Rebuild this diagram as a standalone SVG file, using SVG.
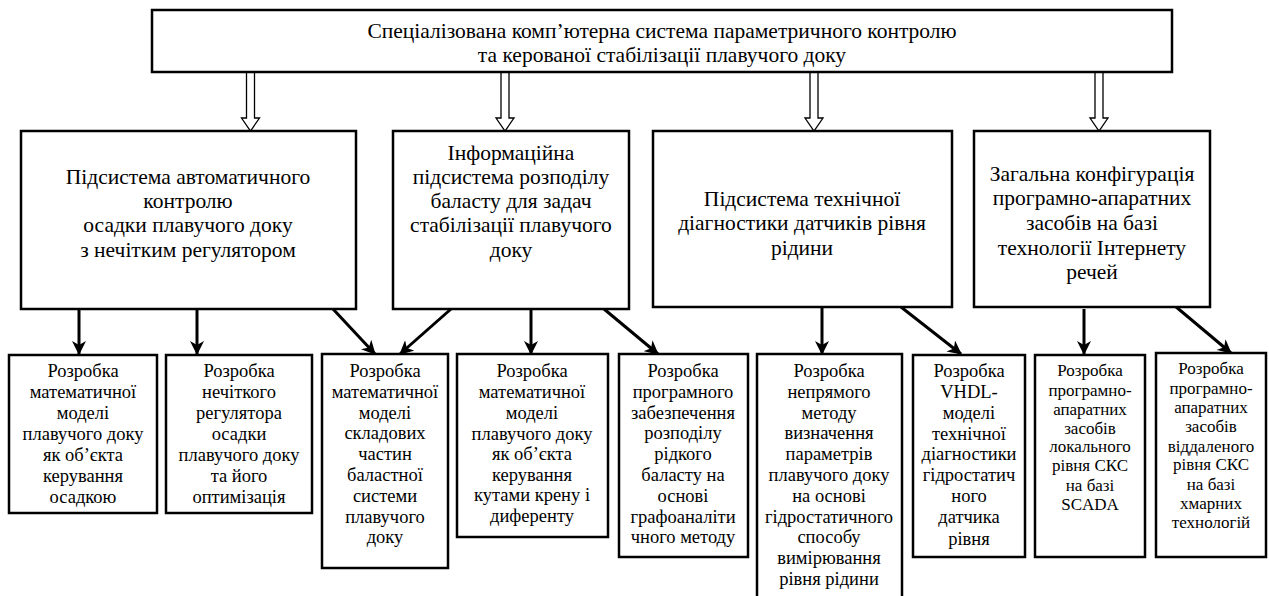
<svg xmlns="http://www.w3.org/2000/svg" width="1269" height="596" viewBox="0 0 1269 596">
<style>
.box{fill:#fff;stroke:#000;stroke-width:2.5}
.t{font-family:'Liberation Serif','Times New Roman','DejaVu Serif',serif;fill:#000;text-anchor:middle}
.t1{font-size:21.5px}
.t2{font-size:21.5px}
.t3{font-size:18.5px}
.t4{font-size:17px}
.hollow{fill:#fff;stroke:#000;stroke-width:1.3}
.conn{stroke:#000;stroke-width:3;fill:none}
</style>
<defs>
<marker id="ah" viewBox="0 0 14 14" refX="13" refY="7" markerWidth="14" markerHeight="14" markerUnits="userSpaceOnUse" orient="auto">
<path d="M0,0 L14,7 L0,14 L4,7 z" fill="#000"/>
</marker>
</defs>
<g id="connectors">
<path class="hollow" d="M246.5,72 V118 H241.5 L250.5,131 L259.5,118 H254.5 V72"/>
<path class="hollow" d="M501,72 V118 H496 L505,131 L514,118 H509 V72"/>
<path class="hollow" d="M810,72 V118 H805 L814,131 L823,118 H818 V72"/>
<path class="hollow" d="M1095,72 V118 H1090 L1099,131 L1108,118 H1103 V72"/>
<line class="conn" x1="79" y1="309" x2="79" y2="354" marker-end="url(#ah)"/>
<line class="conn" x1="197" y1="309" x2="197" y2="354" marker-end="url(#ah)"/>
<line class="conn" x1="333" y1="309" x2="375" y2="354" marker-end="url(#ah)"/>
<line class="conn" x1="451" y1="309" x2="400" y2="354" marker-end="url(#ah)"/>
<line class="conn" x1="531" y1="309" x2="531" y2="354" marker-end="url(#ah)"/>
<line class="conn" x1="604" y1="309" x2="658" y2="354" marker-end="url(#ah)"/>
<line class="conn" x1="822" y1="307" x2="822" y2="354" marker-end="url(#ah)"/>
<line class="conn" x1="901" y1="307" x2="961" y2="354" marker-end="url(#ah)"/>
<line class="conn" x1="1084" y1="309" x2="1084" y2="354" marker-end="url(#ah)"/>
<line class="conn" x1="1175" y1="306" x2="1231" y2="353" marker-end="url(#ah)"/>
</g>
<g id="root">
<rect class="box" x="152" y="10" width="1020" height="62"/>
<text class="t t1"><tspan x="662" y="38">Спеціалізована комп’ютерна система параметричного контролю</tspan><tspan x="662" y="62">та керованої стабілізації плавучого доку</tspan></text>
</g>
<g id="sub1">
<rect class="box" x="21" y="131" width="335" height="178"/>
<text class="t t2"><tspan x="188" y="184">Підсистема автоматичного</tspan><tspan x="188" y="208">контролю</tspan><tspan x="188" y="232">осадки плавучого доку</tspan><tspan x="188" y="257">з нечітким регулятором</tspan></text>
</g>
<g id="sub2">
<rect class="box" x="393" y="131" width="236" height="178"/>
<text class="t t2"><tspan x="511" y="160">Інформаційна</tspan><tspan x="511" y="184">підсистема розподілу</tspan><tspan x="511" y="208">баласту для задач</tspan><tspan x="511" y="232">стабілізації плавучого</tspan><tspan x="511" y="257">доку</tspan></text>
</g>
<g id="sub3">
<rect class="box" x="653" y="131" width="299" height="176"/>
<text class="t t2"><tspan x="802" y="206">Підсистема технічної</tspan><tspan x="802" y="230">діагностики датчиків рівня</tspan><tspan x="802" y="255">рідини</tspan></text>
</g>
<g id="sub4">
<rect class="box" x="974" y="131" width="236" height="176"/>
<text class="t t2"><tspan x="1092" y="181">Загальна конфігурація</tspan><tspan x="1092" y="205">програмно-апаратних</tspan><tspan x="1092" y="230">засобів на базі</tspan><tspan x="1092" y="255">технології Інтернету</tspan><tspan x="1092" y="279">речей</tspan></text>
</g>
<g id="taskA">
<rect class="box" x="9" y="355" width="148" height="158"/>
<text class="t t3"><tspan x="83" y="377">Розробка</tspan><tspan x="83" y="398">математичної</tspan><tspan x="83" y="419">моделі</tspan><tspan x="83" y="440">плавучого доку</tspan><tspan x="83" y="461">як об’єкта</tspan><tspan x="83" y="482">керування</tspan><tspan x="83" y="503">осадкою</tspan></text>
</g>
<g id="taskB">
<rect class="box" x="166" y="355" width="146" height="158"/>
<text class="t t3"><tspan x="239" y="377">Розробка</tspan><tspan x="239" y="398">нечіткого</tspan><tspan x="239" y="419">регулятора</tspan><tspan x="239" y="440">осадки</tspan><tspan x="239" y="461">плавучого доку</tspan><tspan x="239" y="482">та його</tspan><tspan x="239" y="503">оптимізація</tspan></text>
</g>
<g id="taskC">
<rect class="box" x="322" y="354" width="126" height="214"/>
<text class="t t3"><tspan x="385" y="377">Розробка</tspan><tspan x="385" y="398">математичної</tspan><tspan x="385" y="419">моделі</tspan><tspan x="385" y="439">складових</tspan><tspan x="385" y="460">частин</tspan><tspan x="385" y="481">баластної</tspan><tspan x="385" y="502">системи</tspan><tspan x="385" y="523">плавучого</tspan><tspan x="385" y="543">доку</tspan></text>
</g>
<g id="taskD">
<rect class="box" x="457" y="354" width="151" height="183"/>
<text class="t t3"><tspan x="532" y="377">Розробка</tspan><tspan x="532" y="398">математичної</tspan><tspan x="532" y="419">моделі</tspan><tspan x="532" y="440">плавучого доку</tspan><tspan x="532" y="460">як об’єкта</tspan><tspan x="532" y="481">керування</tspan><tspan x="532" y="501">кутами крену і</tspan><tspan x="532" y="522">диференту</tspan></text>
</g>
<g id="taskE">
<rect class="box" x="619" y="354" width="129" height="203"/>
<text class="t t3"><tspan x="683" y="377">Розробка</tspan><tspan x="683" y="398">програмного</tspan><tspan x="683" y="419">забезпечення</tspan><tspan x="683" y="439">розподілу</tspan><tspan x="683" y="460">рідкого</tspan><tspan x="683" y="481">баласту на</tspan><tspan x="683" y="502">основі</tspan><tspan x="683" y="523">графоаналіти</tspan><tspan x="683" y="543">чного методу</tspan></text>
</g>
<g id="taskF">
<rect class="box" x="757" y="354" width="145" height="246"/>
<text class="t t3"><tspan x="829" y="377">Розробка</tspan><tspan x="829" y="398">непрямого</tspan><tspan x="829" y="419">методу</tspan><tspan x="829" y="439">визначення</tspan><tspan x="829" y="460">параметрів</tspan><tspan x="829" y="481">плавучого доку</tspan><tspan x="829" y="502">на основі</tspan><tspan x="829" y="523">гідростатичного</tspan><tspan x="829" y="543">способу</tspan><tspan x="829" y="564">вимірювання</tspan><tspan x="829" y="585">рівня рідини</tspan></text>
</g>
<g id="taskG">
<rect class="box" x="913" y="355" width="112" height="202"/>
<text class="t t3"><tspan x="969" y="377">Розробка</tspan><tspan x="969" y="398">VHDL-</tspan><tspan x="969" y="419">моделі</tspan><tspan x="969" y="440">технічної</tspan><tspan x="969" y="460">діагностики</tspan><tspan x="969" y="481">гідростатич</tspan><tspan x="969" y="502">ного</tspan><tspan x="969" y="523">датчика</tspan><tspan x="969" y="545">рівня</tspan></text>
</g>
<g id="taskH">
<rect class="box" x="1035" y="355" width="110" height="202"/>
<text class="t t4"><tspan x="1090" y="376">Розробка</tspan><tspan x="1090" y="396">програмно-</tspan><tspan x="1090" y="415">апаратних</tspan><tspan x="1090" y="434">засобів</tspan><tspan x="1090" y="452">локального</tspan><tspan x="1090" y="471">рівня СКС</tspan><tspan x="1090" y="491">на базі</tspan><tspan x="1090" y="510">SCADA</tspan></text>
</g>
<g id="taskI">
<rect class="box" x="1156" y="353" width="110" height="204"/>
<text class="t t4"><tspan x="1211" y="374">Розробка</tspan><tspan x="1211" y="394">програмно-</tspan><tspan x="1211" y="413">апаратних</tspan><tspan x="1211" y="432">засобів</tspan><tspan x="1211" y="452">віддаленого</tspan><tspan x="1211" y="470">рівня СКС</tspan><tspan x="1211" y="490">на базі</tspan><tspan x="1211" y="509">хмарних</tspan><tspan x="1211" y="528">технологій</tspan></text>
</g>
</svg>
